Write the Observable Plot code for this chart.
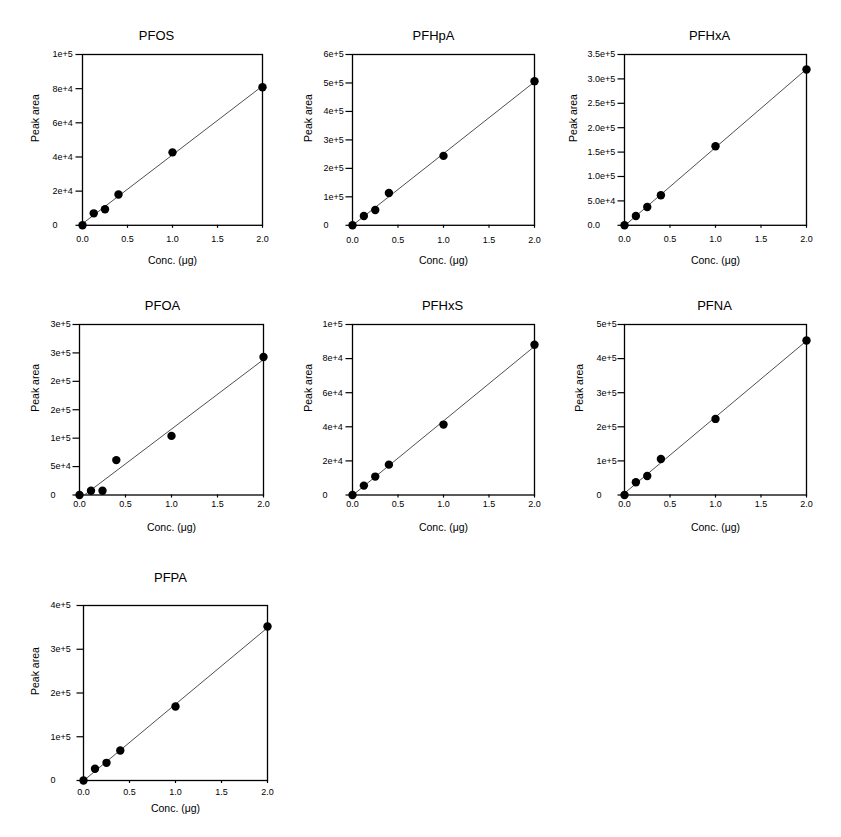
<!DOCTYPE html>
<html>
<head>
<meta charset="utf-8">
<script src="https://cdn.jsdelivr.net/npm/d3@7"></script>
<script src="https://cdn.jsdelivr.net/npm/@observablehq/plot@0.6"></script>
<style>
  html, body { margin: 0; padding: 0; background: #fff; }
  #wrap { position: relative; width: 841px; height: 837px; background: #fff; overflow: hidden; }
  #wrap svg { position: absolute; overflow: visible; }
</style>
</head>
<body>
<div id="wrap"></div>
<script>
// ---- data ----
const compounds = ["PFOS", "PFHpA", "PFHxA", "PFOA", "PFHxS", "PFNA", "PFPA"];
const conc = [0, 0.125, 0.25, 0.4, 1, 2];
const pfos  = [0, 7000, 9400, 18000, 42700, 80800];
const pfhpa = [0, 32800, 53900, 113700, 243800, 506300];
const pfhxa = [0, 19100, 37600, 61500, 162000, 319200];
const pfoa  = [0, 7600, 7600, 61400, 104000, 242700];
const pfhxs = [0, 5500, 10800, 17800, 41300, 88100];
const pfna  = [0, 37200, 55800, 105700, 223100, 453000];
const pfpa  = [0, 26700, 40400, 68600, 169100, 352000];

const xTicks = [0, 0.5, 1, 1.5, 2];
const xTickLabels = ["0.0", "0.5", "1.0", "1.5", "2.0"];

const pfosTicks  = [0, 2e4, 4e4, 6e4, 8e4, 1e5];
const pfosLabels = ["0", "2e+4", "4e+4", "6e+4", "8e+4", "1e+5"];
const pfhpaTicks  = [0, 1e5, 2e5, 3e5, 4e5, 5e5, 6e5];
const pfhpaLabels = ["0", "1e+5", "2e+5", "3e+5", "4e+5", "5e+5", "6e+5"];
const pfhxaTicks  = [0, 5e4, 1e5, 1.5e5, 2e5, 2.5e5, 3e5, 3.5e5];
const pfhxaLabels = ["0.0", "5.0e+4", "1.0e+5", "1.5e+5", "2.0e+5", "2.5e+5", "3.0e+5", "3.5e+5"];
const pfoaTicks  = [0, 5e4, 1e5, 1.5e5, 2e5, 2.5e5, 3e5];
const pfoaLabels = ["0", "5e+4", "1e+5", "2e+5", "2e+5", "3e+5", "3e+5"];
const pfhxsTicks  = [0, 2e4, 4e4, 6e4, 8e4, 1e5];
const pfhxsLabels = ["0", "2e+4", "4e+4", "6e+4", "8e+4", "1e+5"];
const pfnaTicks  = [0, 1e5, 2e5, 3e5, 4e5, 5e5];
const pfnaLabels = ["0", "1e+5", "2e+5", "3e+5", "4e+5", "5e+5"];
const pfpaTicks  = [0, 1e5, 2e5, 3e5, 4e5];
const pfpaLabels = ["0", "1e+5", "2e+5", "3e+5", "4e+5"];

const yLabel = "Peak area";
const xLabel = "Conc. (μg)";

// ---- assemble ----
const series = [pfos, pfhpa, pfhxa, pfoa, pfhxs, pfna, pfpa];
const yTicks = [pfosTicks, pfhpaTicks, pfhxaTicks, pfoaTicks, pfhxsTicks, pfnaTicks, pfpaTicks];
const yTickLabels = [pfosLabels, pfhpaLabels, pfhxaLabels, pfoaLabels, pfhxsLabels, pfnaLabels, pfpaLabels];

// layout per panel: frame left/right/top/bottom, title dx/dy, y-label dx, x-label dy, x-tick padding, y-tick label start
const layout = [
  {l: 82,  r: 262, t: 53.5, b: 224.3, tdx: -16, tdy: -18.5, ydx: -47, xdy: 35,   xpad: 7.8, ys: 30},
  {l: 352, r: 534, t: 53.5, b: 224.3, tdx: -10, tdy: -18.5, ydx: -44, xdy: 35,   xpad: 8.3, ys: 29},
  {l: 624, r: 806, t: 53.5, b: 224.3, tdx: -6,  tdy: -18.5, ydx: -51, xdy: 35,   xpad: 7.8, ys: 37},
  {l: 79,  r: 263, t: 324,  b: 494.5, tdx: -9,  tdy: -19,   ydx: -44, xdy: 32.5, xpad: 2.8, ys: 29},
  {l: 352, r: 534, t: 324,  b: 494.5, tdx: -1,  tdy: -19,   ydx: -44, xdy: 32.5, xpad: 2.8, ys: 30},
  {l: 624, r: 806, t: 324,  b: 494.5, tdx: -1,  tdy: -19,   ydx: -45, xdy: 32.5, xpad: 2.8, ys: 28},
  {l: 83,  r: 267, t: 605,  b: 780,   tdx: -5,  tdy: -28,   ydx: -48, xdy: 28,   xpad: 5.5, ys: 33}
];

const M = {top: 45, left: 60, right: 12, bottom: 45};
const wrap = document.getElementById("wrap");

compounds.forEach((name, i) => {
  const L = layout[i];
  const data = conc.map((c, j) => ({conc: c, area: series[i][j]}));
  const ticks = yTicks[i];
  const labMap = new Map(ticks.map((t, j) => [t, yTickLabels[i][j]]));
  const xLabMap = new Map(xTicks.map((t, j) => [t, xTickLabels[j]]));
  const fw = L.r - L.l, fh = L.b - L.t;
  const ySize = 6.5;
  const svg = Plot.plot({
    width: M.left + fw + M.right,
    height: M.top + fh + M.bottom,
    marginTop: M.top, marginLeft: M.left, marginRight: M.right, marginBottom: M.bottom,
    style: {fontFamily: "'Liberation Sans', Arial, sans-serif", fontSize: "9px", color: "#000", background: "transparent"},
    x: {domain: [0, 2]},
    y: {domain: [0, ticks[ticks.length - 1]]},
    marks: [
      Plot.linearRegressionY(data, {x: "conc", y: "area", ci: 0, stroke: "#222", strokeWidth: 0.8, clip: true}),
      Plot.frame({stroke: "#000", strokeWidth: 1.3}),
      Plot.axisY({ticks: ticks, tickFormat: d => labMap.get(d), tickSize: ySize, tickPadding: L.ys - ySize,
                  textAnchor: "start", label: null, fontSize: 9, strokeWidth: 1.2}),
      Plot.axisX({ticks: xTicks, tickFormat: d => xLabMap.get(d), tickSize: 3, tickPadding: L.xpad,
                  label: null, fontSize: 9, strokeWidth: 1.2}),
      Plot.dot(data, {x: "conc", y: "area", r: 4.2, fill: "#000", stroke: "none"}),
      Plot.text([name], {frameAnchor: "top", lineAnchor: "middle", dx: L.tdx, dy: L.tdy, fontSize: 13, fill: "#000"}),
      Plot.text([yLabel], {frameAnchor: "left", lineAnchor: "middle", rotate: -90, dx: L.ydx, dy: 2, fontSize: 10.5, fill: "#000"}),
      Plot.text([xLabel], {frameAnchor: "bottom", lineAnchor: "middle", dx: 0, dy: L.xdy, fontSize: 10.5, fill: "#000"})
    ]
  });
  svg.style.left = (L.l - M.left) + "px";
  svg.style.top = (L.t - M.top) + "px";
  wrap.appendChild(svg);
});
</script>
</body>
</html>
